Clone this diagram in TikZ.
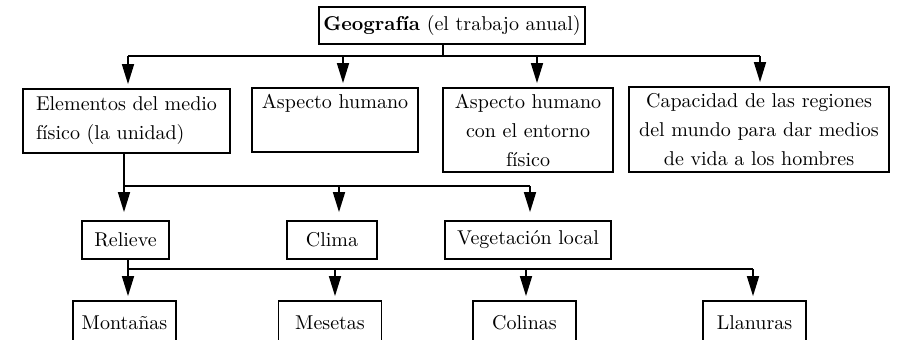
\documentclass[tikz,border=0pt]{standalone}
\usepackage{tikz}
\usetikzlibrary{arrows.meta}

\begin{document}
\begin{tikzpicture}[x=0.5pt,y=-0.5pt,
  box/.style={draw,line width=0.9pt,inner sep=2pt,font=\fontsize{10}{14.5}\selectfont,align=center},
  arr/.style={-{Triangle[length=10pt,width=6pt]},line width=0.8pt},
  ln/.style={line width=0.8pt}]
% frame of the page (px of the scan), lowest row runs off the bottom
\useasboundingbox (0,0) rectangle (897,339);
\clip (0,0) rectangle (897,339);
% top box
\node[box,minimum width=126pt,minimum height=18.5pt] (geo) at (452,25.5) {\textbf{Geografía} (el trabajo anual)};
% second row
\node[box,align=left,minimum width=103.5pt,minimum height=32pt] (elem) at (126.5,121) {Elementos del medio\\físico (la unidad)};
\node[box,minimum width=83pt,minimum height=32pt] (hum) at (335,120) {Aspecto humano\\\strut};
\node[box,minimum width=85pt,minimum height=42pt] (ent) at (528,130) {Aspecto humano\\con el entorno\\físico};
\node[box,minimum width=130pt,minimum height=42.5pt] (cap) at (759,129.5) {Capacidad de las regiones\\del mundo para dar medios\\de vida a los hombres};
% third row
\foreach \n/\x/\w/\lbl in {rel/125.5/43.5pt/Relieve, cli/332/45pt/Clima, veg/528/83pt/Vegetación local}
  \node[box,minimum width=\w,minimum height=19pt] (\n) at (\x,240) {\lbl};
% fourth row (cut by the page edge)
\foreach \n/\x/\lbl in {mon/124.5/Montañas, mes/330/Mesetas, col/524.5/Colinas, lla/754.5/Llanuras}
  \node[box,minimum width=51.5pt,minimum height=22pt] (\n) at (\x,323) {\lbl};
% bus lines
\coordinate (s1) at (443,56);
\foreach \k/\x in {1/128,2/343,3/537,4/760}{\coordinate (a\k) at (\x,56);}
\foreach \k/\x in {1/124,2/339,3/530}{\coordinate (c\k) at (\x,186);}
\foreach \k/\x in {1/128,2/335,3/526,4/753}{\coordinate (d\k) at (\x,269);}
\draw[ln] (geo.south -| s1) -- (s1);
\draw[ln] (a1) -- (a4);
\foreach \k/\n in {1/elem,2/hum,3/ent,4/cap}{\draw[arr,shorten >=2pt] (a\k) -- (\n.north -| a\k);}
\draw[ln] (elem.south -| c1) -- (c1) -- (c3);
\foreach \k/\n in {1/rel,2/cli,3/veg}{\draw[arr,shorten >=4pt] (c\k) -- (\n.north -| c\k);}
\draw[ln] (rel.south -| d1) -- (d1) -- (d4);
\foreach \k/\n in {1/mon,2/mes,3/col,4/lla}{\draw[arr,shorten >=2pt] (d\k) -- (\n.north -| d\k);}
\end{tikzpicture}
\end{document}
